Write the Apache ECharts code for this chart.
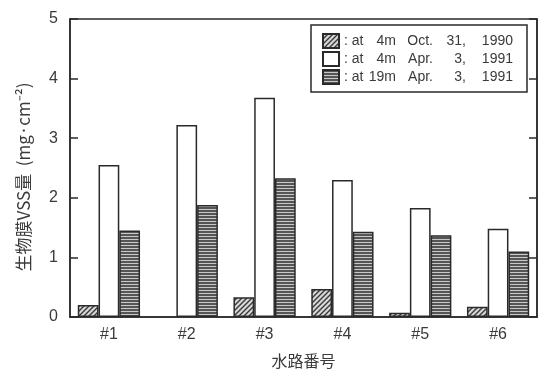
<!DOCTYPE html>
<html><head><meta charset="utf-8">
<script src="https://cdn.jsdelivr.net/npm/echarts@6/dist/echarts.min.js"></script>
<style>html,body{margin:0;padding:0;background:#fff}#c{width:538px;height:374px}</style>
</head><body><div id="c"></div>
<script>
const categories = ['#1', '#2', '#3', '#4', '#5', '#6'];
const oct1990_4m = [0.20, null, 0.33, 0.47, 0.07, 0.17];
const apr1991_4m = [2.55, 3.22, 3.68, 2.30, 1.83, 1.48];
const apr1991_19m = [1.45, 1.88, 2.33, 1.43, 1.37, 1.10];
const yTicks = [0, 1, 2, 3, 4, 5];
const legendRows = [
  ['at', '4m', 'Oct.', '31,', '1990'],
  ['at', '4m', 'Apr.', '3,', '1991'],
  ['at', '19m', 'Apr.', '3,', '1991']
];
const seriesNames = ['s1', 's2', 's3'];

function diagPattern() {
  const c = document.createElement('canvas');
  c.width = 5; c.height = 5;
  const g = c.getContext('2d');
  g.fillStyle = '#d8d8d8'; g.fillRect(0, 0, 5, 5);
  g.strokeStyle = '#3a3a3a'; g.lineWidth = 1.4;
  g.beginPath();
  g.moveTo(-1, 6); g.lineTo(6, -1);
  g.moveTo(-1, 1); g.lineTo(1, -1);
  g.moveTo(4, 6); g.lineTo(6, 4);
  g.stroke();
  return c;
}
function horizPattern() {
  const c = document.createElement('canvas');
  c.width = 4; c.height = 3;
  const g = c.getContext('2d');
  g.fillStyle = '#555'; g.fillRect(0, 0, 4, 3);
  g.fillStyle = '#c8c8c8'; g.fillRect(0, 2, 4, 1);
  return c;
}

const font = "'Liberation Sans', sans-serif";
const txt = '#3a3a3a';
const chart = echarts.init(document.getElementById('c'));
const border = { borderColor: '#2a2a2a', borderWidth: 1.5 };
const rich = {
  a: { width: 22, align: 'left', fontSize: 14, color: txt, fontFamily: font },
  b: { width: 30, align: 'right', fontSize: 14, color: txt, fontFamily: font },
  c: { width: 37, align: 'right', fontSize: 14, color: txt, fontFamily: font },
  d: { width: 33, align: 'right', fontSize: 14, color: txt, fontFamily: font },
  e: { width: 47, align: 'right', fontSize: 14, color: txt, fontFamily: font }
};
chart.setOption({
  animation: false,
  backgroundColor: '#fff',
  grid: { left: 70, top: 19, right: 1, bottom: 49, show: true, borderColor: '#2a2a2a', borderWidth: 1.5 },
  legend: {
    orient: 'vertical', left: 311, top: 25,
    padding: [8, 14, 7, 11],
    itemWidth: 16, itemHeight: 14, itemGap: 2,
    borderColor: '#2a2a2a', borderWidth: 1.5, backgroundColor: '#fff',
    icon: 'rect',
    data: seriesNames,
    textStyle: { rich: rich, lineHeight: 14 },
    formatter: function (n) {
      const r = legendRows[seriesNames.indexOf(n)];
      return '{a|: ' + r[0] + '}{b|' + r[1] + '}{c|' + r[2] + '}{d|' + r[3] + '}{e|' + r[4] + '}';
    }
  },
  xAxis: {
    type: 'category', data: categories,
    axisLine: { lineStyle: { color: '#2a2a2a', width: 1.5 } },
    axisTick: { show: false },
    axisLabel: { fontSize: 16, color: txt, margin: 10, fontFamily: font },
    name: '水路番号', nameLocation: 'middle', nameGap: 36,
    nameTextStyle: { fontSize: 16, color: txt, fontFamily: "'Noto Sans CJK JP'" }
  },
  yAxis: [{
    type: 'value', min: 0, max: 5, interval: 1,
    axisLine: { show: true, lineStyle: { color: '#2a2a2a', width: 1.5 } },
    axisTick: { show: true, inside: true, length: 8, lineStyle: { color: '#2a2a2a', width: 1.5 } },
    splitLine: { show: false },
    axisLabel: { fontSize: 16, color: txt, margin: 12, fontFamily: font,
      formatter: function (v) { return yTicks.indexOf(v) >= 0 ? String(v) : ''; } },
    name: '生物膜VSS量  (mg·cm⁻²)', nameLocation: 'middle', nameGap: 38, nameRotate: 90,
    nameTextStyle: { fontSize: 17, color: txt, fontFamily: "'Noto Sans CJK JP'", padding: [0, 18, 0, 0] }
  }, {
    type: 'value', min: 0, max: 5, interval: 1, position: 'right',
    axisLine: { show: true, lineStyle: { color: '#2a2a2a', width: 1.5 } },
    axisTick: { show: true, inside: true, length: 8, lineStyle: { color: '#2a2a2a', width: 1.5 } },
    splitLine: { show: false },
    axisLabel: { show: false }
  }],
  series: [
    { name: 's1', type: 'bar', data: oct1990_4m, barGap: '0%', barCategoryGap: '20%',
      itemStyle: Object.assign({ color: { image: diagPattern(), repeat: 'repeat' } }, border) },
    { name: 's2', type: 'bar', data: apr1991_4m,
      itemStyle: Object.assign({ color: '#fff' }, border) },
    { name: 's3', type: 'bar', data: apr1991_19m,
      itemStyle: Object.assign({ color: { image: horizPattern(), repeat: 'repeat' } }, border) }
  ]
});
</script></body></html>
